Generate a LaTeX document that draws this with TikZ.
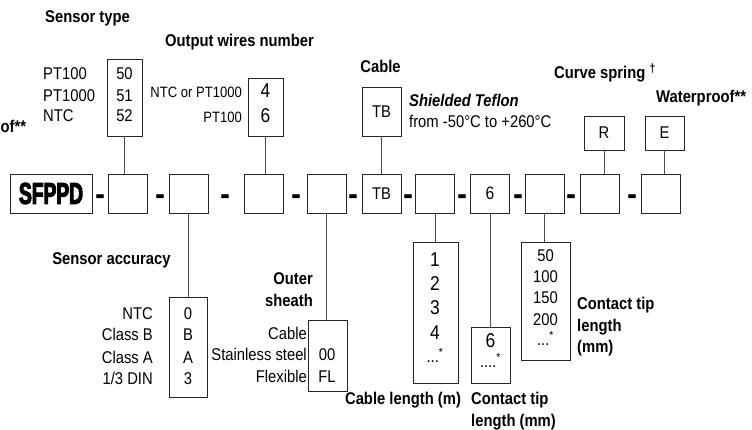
\documentclass[tikz,border=0pt]{standalone}
\usepackage{fontspec}
\setmainfont{Liberation Sans}[FakeStretch=0.87]
\newfontfamily\heavy{Liberation Sans Bold}[FakeStretch=0.64,FakeBold=3.5]
\newfontfamily\dashfont{Liberation Sans Bold}[FakeBold=2]
\begin{document}
\begin{tikzpicture}[x=1pt,y=-1pt,
  every node/.style={inner sep=0pt},
  cell/.style={draw=black!85, line width=0.9pt, minimum width=39pt, minimum height=39pt, font=\fontsize{17}{20}\selectfont},
  opt/.style={draw=black!85, line width=0.9pt},
  conn/.style={draw=black!70, line width=0.9pt},
  hd/.style={font=\fontsize{17}{20}\selectfont\bfseries},
  hdi/.style={font=\fontsize{17}{20}\selectfont\bfseries\itshape},
  txt/.style={font=\fontsize{17}{20}\selectfont},
  big/.style={font=\fontsize{20}{24}\selectfont},
  sm/.style={font=\fontsize{15}{18}\selectfont},
  dsh/.style={font=\dashfont\fontsize{26}{30}\selectfont, anchor=base}
]
\useasboundingbox (0,0) rectangle (752,430);

% ---- main row ----
\node[cell, minimum width=82pt] (s0) at (51,193.5) {\heavy\fontsize{30}{34}\selectfont SFPPD};
\node[cell] (b1) at (127.5,193.5) {};
\node[cell] (b2) at (188.5,193.5) {};
\node[cell] (b3) at (263.5,193.5) {};
\node[cell] (b4) at (326.5,193.5) {};
\node[cell] (b5) at (381.5,193.5) {TB};
\node[cell] (b6) at (435,193.5) {};
\node[cell, font=\fontsize{18}{22}\selectfont] (b7) at (490,193.5) {6};
\node[cell] (b8) at (544.5,193.5) {};
\node[cell] (b9) at (600,193.5) {};
\node[cell] (b10) at (661,193.5) {};

\node[dsh] (d1) at (100,203) {-};
\node[dsh] (d2) at (160,203) {-};
\node[dsh] (d3) at (225,203) {-};
\node[dsh] (d4) at (296,203) {-};
\node[dsh] (d5) at (353,203) {-};
\node[dsh] (d6) at (408,203) {-};
\node[dsh] (d7) at (462,203) {-};
\node[dsh] (d8) at (518,203) {-};
\node[dsh] (d9) at (571,203) {-};
\node[dsh] (d10) at (632,203) {-};

% ---- top option boxes ----
\node[opt, minimum width=35pt, minimum height=77pt] (st) at (124.5,97.5) {};
\node[opt, minimum width=35pt, minimum height=58pt] (ow) at (265.5,107) {};
\node[opt, minimum width=39pt, minimum height=49pt, txt] (tb) at (381.5,111.5) {TB};
\node[opt, minimum width=40pt, minimum height=34pt, txt] (rr) at (604,133) {R};
\node[opt, minimum width=39pt, minimum height=34pt, txt] (ee) at (664.5,133) {E};

\draw[conn] (st.south) -- (st.south |- b1.north);
\draw[conn] (ow.south) -- (ow.south |- b3.north);
\draw[conn] (tb.south) -- (tb.south |- b5.north);
\draw[conn] (rr.south) -- (rr.south |- b9.north);
\draw[conn] (ee.south) -- (ee.south |- b10.north);

% ---- bottom option boxes ----
\node[opt, minimum width=38pt, minimum height=100pt] (acc) at (188,347) {};
\node[opt, minimum width=39pt, minimum height=71pt] (os) at (327.5,355.5) {};
\node[opt, minimum width=45pt, minimum height=141pt] (cl) at (435.5,312.5) {};
\node[opt, minimum width=39pt, minimum height=56pt] (ct1) at (490.5,355) {};
\node[opt, minimum width=49pt, minimum height=118pt] (ct2) at (545.5,301) {};

\draw[conn] (b2.south) -- (b2.south |- acc.north);
\draw[conn] (b4.south) -- (b4.south |- os.north);
\draw[conn] (b6.south) -- (b6.south |- cl.north);
\draw[conn] (b7.south) -- (b7.south |- ct1.north);
\draw[conn] (b8.south) -- (b8.south |- ct2.north);

% ---- headings ----
\node[hd, anchor=mid] (h1) at (87.5,20) {Sensor type};
\node[hd, anchor=mid] (h2) at (239.5,44) {Output wires number};
\node[hd, anchor=mid] (h3) at (380.5,70) {Cable};
\node[hd, anchor=mid west] (h4) at (554,76) {Curve spring \textsuperscript{†}};
\node[hd, anchor=mid west] (h5) at (656,100) {Waterproof**};
\node[hd, anchor=mid west] (h6) at (0.5,130) {of**};
\node[hdi, anchor=mid west] (h7) at (409,104) {Shielded Teflon};
\node[txt, anchor=mid west] (h8) at (409,125) {from -50°C to +260°C};

% sensor type
\node[txt, anchor=mid west] (l1) at (43,77) {PT100};
\node[txt, anchor=mid west] (l2) at (43,99) {PT1000};
\node[txt, anchor=mid west] (l3) at (43,119) {NTC};
\node[txt, anchor=mid] (v1) at (124.5,77) {50};
\node[txt, anchor=mid] (v2) at (124.5,99) {51};
\node[txt, anchor=mid] (v3) at (124.5,119) {52};

% output wires
\node[sm, anchor=mid east] (l4) at (242,95) {NTC or PT1000};
\node[sm, anchor=mid east] (l5) at (242,120) {PT100};
\node[big, anchor=mid] (v4) at (265.5,95) {4};
\node[big, anchor=mid] (v5) at (265.5,120) {6};

% sensor accuracy
\node[hd, anchor=mid] (h9) at (111.5,262) {Sensor accuracy};
\node[txt, anchor=mid east] (a1) at (153,317) {NTC};
\node[txt, anchor=mid east] (a2) at (153,338) {Class B};
\node[txt, anchor=mid east] (a3) at (153,361) {Class A};
\node[txt, anchor=mid east] (a4) at (153,382) {1/3 DIN};
\node[txt, anchor=mid] (av1) at (188,317) {0};
\node[txt, anchor=mid] (av2) at (188,338) {B};
\node[txt, anchor=mid] (av3) at (188,361) {A};
\node[txt, anchor=mid] (av4) at (188,382) {3};

% outer sheath
\node[hd, anchor=mid east] (h10) at (313,282) {Outer};
\node[hd, anchor=mid east] (h11) at (313,304) {sheath};
\node[txt, anchor=mid east] (o1) at (307,337) {Cable};
\node[txt, anchor=mid east] (o2) at (307,358) {Stainless steel};
\node[txt, anchor=mid east] (o3) at (307,380) {Flexible};
\node[txt, anchor=mid] (ov1) at (327,358) {00};
\node[txt, anchor=mid] (ov2) at (327,380) {FL};

% cable length
\node[big, anchor=mid] (c1) at (435,264) {1};
\node[big, anchor=mid] (c2) at (435,288) {2};
\node[big, anchor=mid] (c3) at (435,312) {3};
\node[big, anchor=mid] (c4) at (435,337) {4};
\node[txt, anchor=mid] (c5) at (435,360) {...\textsuperscript{*}};
\node[hd, anchor=mid] (h12) at (403,402) {Cable length (m)};

% contact tip 1
\node[big, anchor=mid] (t1) at (490.5,345) {6};
\node[txt, anchor=mid] (t2) at (490.5,365) {....\textsuperscript{*}};
\node[hd, anchor=mid west] (h13) at (471,402) {Contact tip};
\node[hd, anchor=mid west] (h14) at (471,424) {length (mm)};

% contact tip 2
\node[txt, anchor=mid] (u1) at (545.5,259) {50};
\node[txt, anchor=mid] (u2) at (545.5,280) {100};
\node[txt, anchor=mid] (u3) at (545.5,301) {150};
\node[txt, anchor=mid] (u4) at (545.5,323) {200};
\node[txt, anchor=mid] (u5) at (545.5,343) {...\textsuperscript{*}};
\node[hd, anchor=mid west] (h15) at (577,307) {Contact tip};
\node[hd, anchor=mid west] (h16) at (577,329) {length};
\node[hd, anchor=mid west] (h17) at (577,350) {(mm)};
\end{tikzpicture}
\end{document}
